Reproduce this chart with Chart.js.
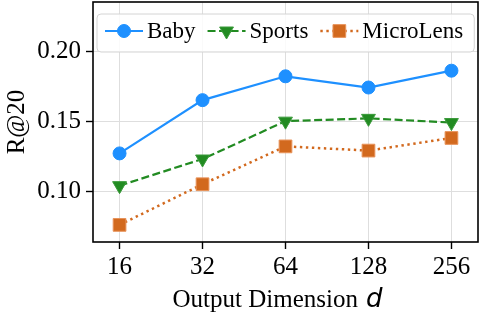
<!DOCTYPE html>
<html><head><meta charset="utf-8">
<script src="https://cdn.jsdelivr.net/npm/chart.js@4/dist/chart.umd.min.js"></script>
<style>html,body{margin:0;padding:0;background:#fff}canvas{display:block}</style>
</head><body>
<canvas id="c" width="479" height="316"></canvas>
<script>
const xLabels = ['16', '32', '64', '128', '256'];
const yTicks = [0.10, 0.15, 0.20];
const baby = [0.127, 0.165, 0.182, 0.174, 0.186];
const sports = [0.104, 0.123, 0.150, 0.152, 0.149];
const microlens = [0.076, 0.105, 0.132, 0.129, 0.138];
const seriesNames = ['Baby', 'Sports', 'MicroLens'];
const xTitle = 'Output Dimension';
const xTitleVar = 'd';
const yTitle = 'R@20';

const SERIF = '"Liberation Serif","Times New Roman",serif';
const toPts = arr => arr.map((v, i) => ({x: i, y: v}));

const datasets = [
  {label: seriesNames[0], data: toPts(baby), borderColor: '#1E90FF', backgroundColor: '#1E90FF',
   borderWidth: 2.2, borderDash: [], pointStyle: 'circle', pointRadius: 6.5, pointRotation: 0,
   pointBackgroundColor: '#1E90FF', pointBorderColor: '#1E90FF', pointBorderWidth: 1},
  {label: seriesNames[1], data: toPts(sports), borderColor: '#228B22', backgroundColor: '#228B22',
   borderWidth: 2.2, borderDash: [8, 3.5], pointStyle: 'triangle', pointRadius: 8, pointRotation: 180,
   pointBackgroundColor: '#228B22', pointBorderColor: '#3a9a3a', pointBorderWidth: 1},
  {label: seriesNames[2], data: toPts(microlens), borderColor: '#D2691E', backgroundColor: '#D2691E',
   borderWidth: 2.5, borderDash: [2.4, 3.6], pointStyle: 'rect', pointRadius: 9, pointRotation: 0,
   pointBackgroundColor: '#D2691E', pointBorderColor: '#E8935A', pointBorderWidth: 1}
];

const frame = {
  id: 'frame',
  afterDatasetsDraw(chart) {
    const {ctx, chartArea: a} = chart;
    ctx.save();
    ctx.strokeStyle = '#000';
    ctx.lineWidth = 1.6;
    ctx.setLineDash([]);
    ctx.strokeRect(a.left, a.top, a.right - a.left, a.bottom - a.top);
    ctx.restore();
  }
};

function rr(ctx, x, y, w, h, r) {
  ctx.beginPath();
  ctx.moveTo(x + r, y);
  ctx.lineTo(x + w - r, y); ctx.quadraticCurveTo(x + w, y, x + w, y + r);
  ctx.lineTo(x + w, y + h - r); ctx.quadraticCurveTo(x + w, y + h, x + w - r, y + h);
  ctx.lineTo(x + r, y + h); ctx.quadraticCurveTo(x, y + h, x, y + h - r);
  ctx.lineTo(x, y + r); ctx.quadraticCurveTo(x, y, x + r, y);
  ctx.closePath();
}

const legend = {
  id: 'customLegend',
  afterDraw(chart) {
    const ctx = chart.ctx;
    ctx.save();
    ctx.font = '23px ' + SERIF;
    const cy = 31, sample = 38, gapText = 4, gap = 12;
    let x = 105;
    const items = chart.data.datasets.map(ds => ({ds, w: ctx.measureText(ds.label).width}));
    const total = items.reduce((s, it) => s + sample + gapText + it.w, 0) + gap * (items.length - 1);
    const boxL = 97, boxT = 14, boxB = 52, boxR = Math.min(x + total + 11, 475);
    rr(ctx, boxL, boxT, boxR - boxL, boxB - boxT, 4);
    ctx.fillStyle = 'rgba(255,255,255,0.85)';
    ctx.fill();
    ctx.strokeStyle = '#d4d4d4';
    ctx.lineWidth = 1;
    ctx.stroke();
    items.forEach(it => {
      const ds = it.ds;
      ctx.strokeStyle = ds.borderColor;
      ctx.lineWidth = ds.borderWidth;
      ctx.setLineDash(ds.borderDash);
      ctx.beginPath();
      ctx.moveTo(x, cy); ctx.lineTo(x + sample, cy);
      ctx.stroke();
      ctx.setLineDash([]);
      ctx.fillStyle = ds.pointBackgroundColor;
      ctx.strokeStyle = ds.pointBorderColor;
      ctx.lineWidth = ds.pointBorderWidth;
      Chart.helpers.drawPoint(ctx, {pointStyle: ds.pointStyle, rotation: ds.pointRotation,
        radius: ds.pointRadius, borderWidth: ds.pointBorderWidth}, x + sample / 2, cy);
      ctx.fillStyle = '#000';
      ctx.textBaseline = 'middle';
      ctx.textAlign = 'left';
      ctx.fillText(ds.label, x + sample + gapText, cy + 1);
      x += sample + gapText + it.w + gap;
    });
    ctx.restore();
  }
};

const xTitlePlugin = {
  id: 'xTitle',
  afterDraw(chart) {
    const {ctx, chartArea: a} = chart;
    ctx.save();
    const f1 = '25px ' + SERIF, f2 = 'italic 26px "DejaVu Sans"';
    const sp = 8;
    ctx.font = f1; const w1 = ctx.measureText(xTitle).width;
    ctx.font = f2; const w2 = ctx.measureText(xTitleVar).width;
    const x0 = (a.left + a.right) / 2 - (w1 + sp + w2) / 2 - 8;
    const by = 307;
    ctx.fillStyle = '#000';
    ctx.textBaseline = 'alphabetic';
    ctx.textAlign = 'left';
    ctx.font = f1; ctx.fillText(xTitle, x0, by);
    ctx.font = f2; ctx.fillText(xTitleVar, x0 + w1 + sp, by);
    ctx.restore();
  }
};

new Chart(document.getElementById('c'), {
  type: 'line',
  data: {datasets},
  options: {
    responsive: false,
    animation: false,
    layout: {autoPadding: false, padding: {top: 2, right: 1, left: 0, bottom: 0}},
    plugins: {legend: {display: false}, tooltip: {enabled: false}},
    scales: {
      x: {
        type: 'linear', min: -0.32, max: 4.32,
        afterBuildTicks: s => { s.ticks = xLabels.map((_, i) => ({value: i})); },
        afterFit: s => { s.height = 74; s.paddingLeft = 0; s.paddingRight = 0; },
        ticks: {autoSkip: false, maxRotation: 0, padding: 3, color: '#000',
          font: {family: SERIF, size: 25}, callback: v => xLabels[v]},
        grid: {color: '#dedede', lineWidth: 1, tickColor: '#000', tickLength: 7, tickWidth: 1.4},
        border: {display: false}
      },
      y: {
        type: 'linear', min: 0.0638, max: 0.235,
        afterBuildTicks: s => { s.ticks = yTicks.map(v => ({value: v})); },
        afterFit: s => { s.width = 93; s.paddingTop = 0; s.paddingBottom = 0; },
        ticks: {padding: 5, color: '#000', font: {family: SERIF, size: 25},
          callback: v => v.toFixed(2)},
        grid: {color: '#dedede', lineWidth: 1, tickColor: '#000', tickLength: 7, tickWidth: 1.4},
        border: {display: false},
        title: {display: true, text: yTitle, color: '#000', font: {family: SERIF, size: 25, lineHeight: 1.2},
          padding: {top: 2, bottom: 0}}
      }
    }
  },
  plugins: [frame, legend, xTitlePlugin]
});
</script>
</body></html>
